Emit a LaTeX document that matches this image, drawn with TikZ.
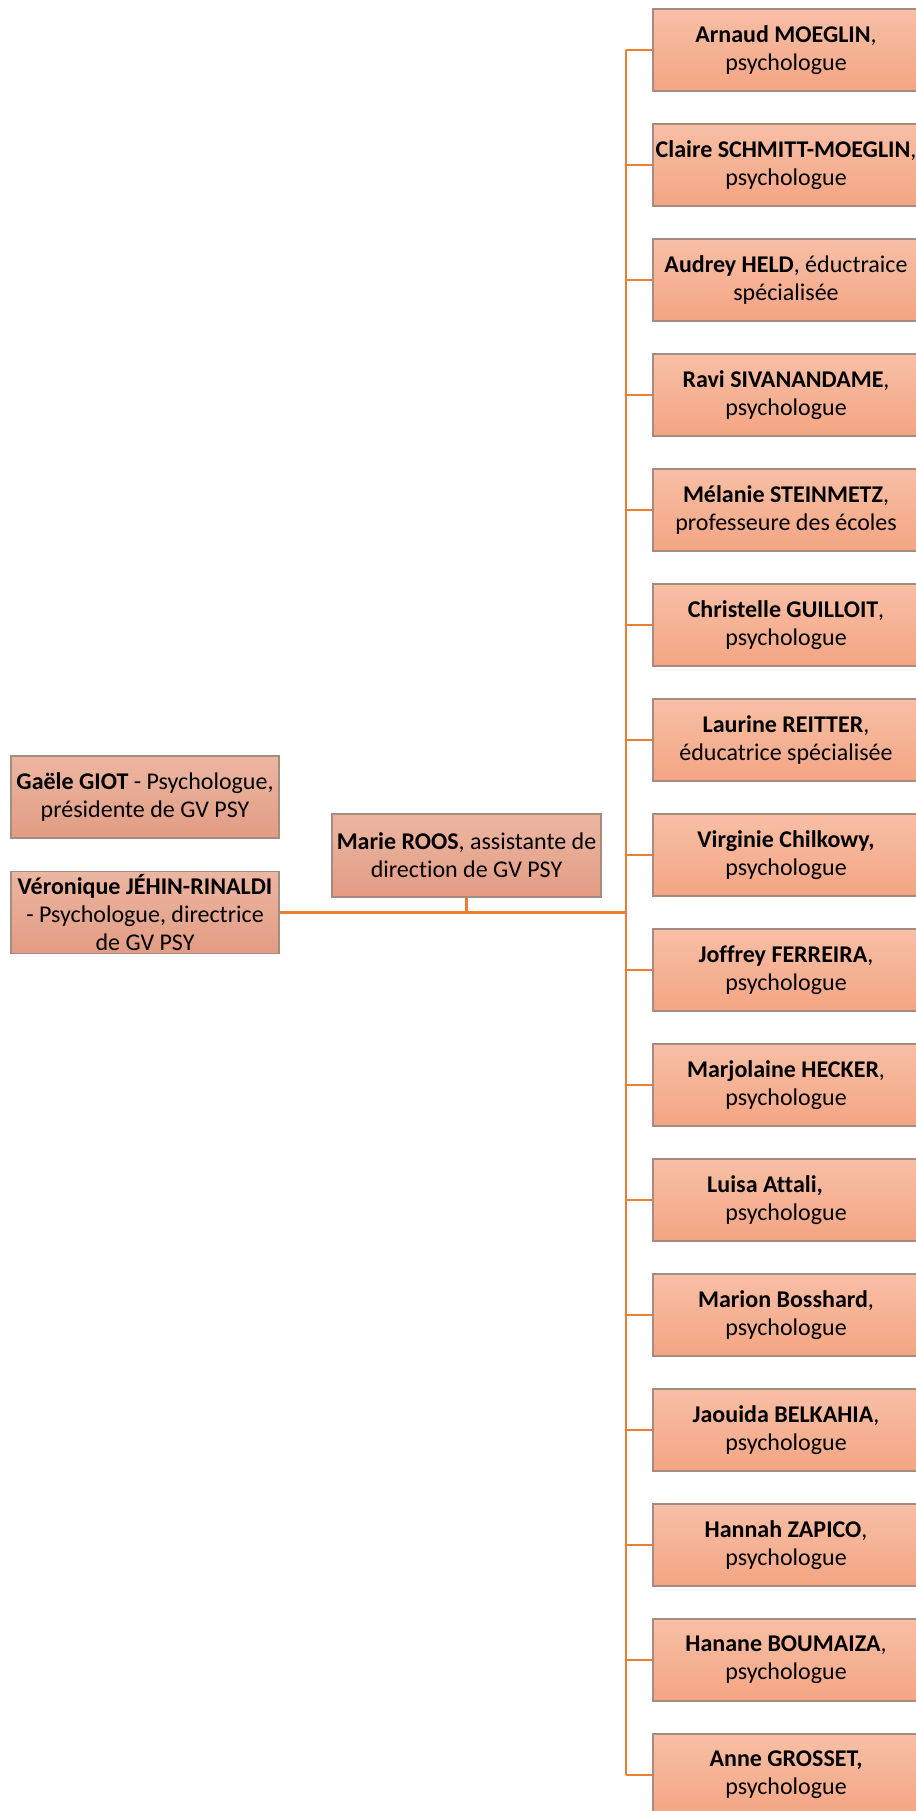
\documentclass[tikz,border=0pt]{standalone}
\usepackage{fontspec}
\setmainfont{Carlito}[Ligatures=NoCommon]
\definecolor{lineor}{RGB}{237,125,49}
\definecolor{rtop}{RGB}{247,191,166}
\definecolor{rbot}{RGB}{244,165,131}
\definecolor{ltop}{RGB}{236,182,162}
\definecolor{lbot}{RGB}{226,156,131}
\definecolor{bord}{RGB}{165,140,128}
\tikzset{
  rbox/.style={rectangle, draw=bord, line width=1.4pt, top color=rtop, bottom color=rbot,
    minimum width=266pt, minimum height=82pt, inner sep=0pt, align=center,
    font=\fontsize{24}{28}\selectfont},
  lbox/.style={rectangle, draw=bord, line width=1.4pt, top color=ltop, bottom color=lbot,
    minimum width=268pt, minimum height=82pt, inner sep=0pt, align=center,
    font=\fontsize{24}{28}\selectfont},
  conn/.style={draw=lineor, line width=2.2pt}
}
\begin{document}
\begin{tikzpicture}[x=1pt,y=-1pt]
\useasboundingbox (0,0) rectangle (915,1811);
% left boxes
\node[lbox] (g) at (145,797) {\textbf{Gaële GIOT} - Psychologue,\\présidente de GV PSY};
\node[lbox] (v) at (145,912.5) {\textbf{Véronique JÉHIN-RINALDI}\\- Psychologue, directrice\\de GV PSY};
\node[lbox, minimum width=269pt, minimum height=83pt] (m) at (466.5,855.5) {\textbf{Marie ROOS}, assistante de\\direction de GV PSY};
% right boxes
\node[rbox] (r1) at (786,50) {\textbf{Arnaud MOEGLIN},\\psychologue};
\node[rbox] (r2) at (786,165) {\textbf{Claire SCHMITT-MOEGLIN},\\psychologue};
\node[rbox] (r3) at (786,280) {\textbf{Audrey HELD}, éductraice\\spécialisée};
\node[rbox] (r4) at (786,395) {\textbf{Ravi SIVANANDAME},\\psychologue};
\node[rbox] (r5) at (786,510) {\textbf{Mélanie STEINMETZ},\\professeure des écoles};
\node[rbox] (r6) at (786,625) {\textbf{Christelle GUILLOIT},\\psychologue};
\node[rbox] (r7) at (786,740) {\textbf{Laurine REITTER},\\éducatrice spécialisée};
\node[rbox] (r8) at (786,855) {\textbf{Virginie Chilkowy,}\\psychologue};
\node[rbox] (r9) at (786,970) {\textbf{Joffrey FERREIRA},\\psychologue};
\node[rbox] (r10) at (786,1085) {\textbf{Marjolaine HECKER},\\psychologue};
\node[rbox] (r11) at (786,1200) {\textbf{Luisa Attali,}\hspace*{42pt}\\psychologue};
\node[rbox] (r12) at (786,1315) {\textbf{Marion Bosshard},\\psychologue};
\node[rbox] (r13) at (786,1430) {\textbf{Jaouida BELKAHIA},\\psychologue};
\node[rbox] (r14) at (786,1545) {\textbf{Hannah ZAPICO},\\psychologue};
\node[rbox] (r15) at (786,1660) {\textbf{Hanane BOUMAIZA},\\psychologue};
\node[rbox] (r16) at (786,1775) {\textbf{Anne GROSSET,}\\psychologue};
% connectors
\coordinate (jt) at (626,912.5);
\draw[conn] (v.east) -- (jt);
\draw[conn] (m.south) -- (m.south |- jt);
\draw[conn] (r1.west -| jt) -- (r16.west -| jt);
\foreach \i in {1,...,16} {
  \draw[conn] (r\i.west) -- (r\i.west -| jt);
}
\end{tikzpicture}
\end{document}
